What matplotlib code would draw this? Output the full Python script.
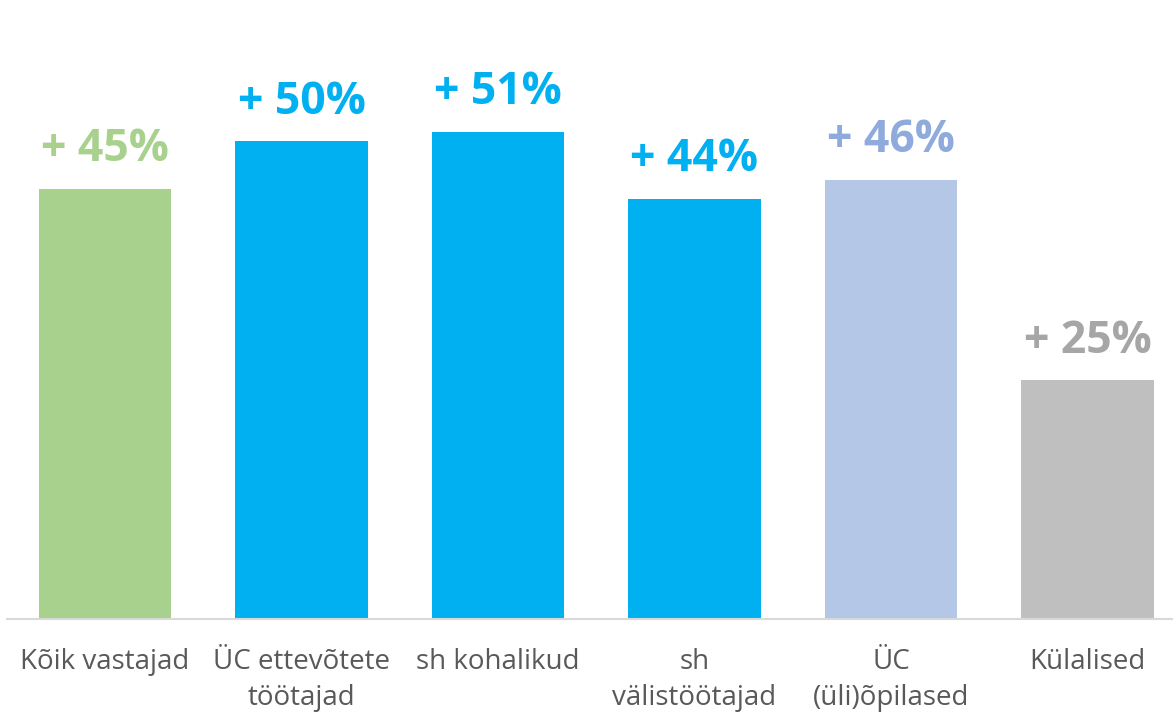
import matplotlib.pyplot as plt

categories = ["Kõik vastajad", "ÜC ettevõtete\ntöötajad", "sh kohalikud",
              "sh\nvälistöötajad", "ÜC\n(üli)õpilased", "Külalised"]
values = [45, 50, 51, 44, 46, 25]
labels = ["+ 45%", "+ 50%", "+ 51%", "+ 44%", "+ 46%", "+ 25%"]
bar_colors = ["#A9D18E", "#00B0F0", "#00B0F0", "#00B0F0", "#B4C7E7", "#BFBFBF"]
label_colors = ["#A9D18E", "#00B0F0", "#00B0F0", "#00B0F0", "#8FAADC", "#A6A6A6"]

plt.rcParams['font.family'] = ['Open Sans', 'DejaVu Sans']

W, H = 1173, 717
fig = plt.figure(figsize=(W / 100, H / 100), dpi=100)
# plotting area: x from 6.75 px to 1185.75 px (cut at the right edge), baseline at y=619
ax = fig.add_axes([6.75 / W, (H - 619) / H, 1179 / W, 619 / H])

x = range(len(values))
bars = ax.bar(x, values, width=0.672, color=bar_colors, zorder=2)

for bar, lab, col in zip(bars, labels, label_colors):
    ax.annotate(lab, (bar.get_x() + bar.get_width() / 2, bar.get_height()),
                xytext=(0, 12), textcoords='offset points', ha='center', va='bottom',
                fontsize=32, fontweight='bold', color=col)

ax.set_xlim(-0.5, len(values) - 0.5)
ax.set_ylim(0, 64.8)
ax.set_xticks(list(x))
ax.set_xticklabels(categories, fontsize=20, color="#595959", linespacing=1.35, va='top')
ax.tick_params(axis='x', length=0, pad=21)
ax.set_yticks([])
for side in ['top', 'right', 'left']:
    ax.spines[side].set_visible(False)
ax.spines['bottom'].set_color("#D9D9D9")
ax.spines['bottom'].set_linewidth(1.5)

fig.savefig("out.png", dpi=100)
